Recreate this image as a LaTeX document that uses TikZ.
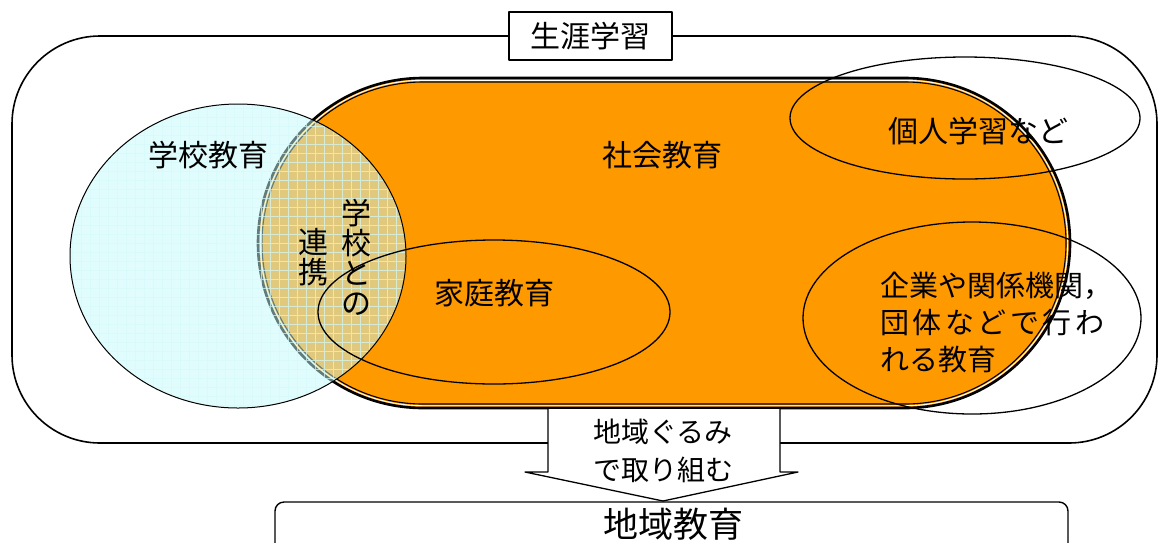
\documentclass[tikz,border=0pt]{standalone}
\usepackage{fontspec}
\newfontfamily\jp{Noto Sans CJK JP}
\definecolor{orangefill}{RGB}{255,153,0}
\definecolor{cyanfill}{RGB}{195,249,249}
\definecolor{gridc}{RGB}{212,250,250}
\begin{document}
\begin{tikzpicture}[x=1pt,y=-1pt,line join=round,
  lbl/.style={font=\jp\fontsize{30}{30}\selectfont, inner sep=0pt, text=black},
  lblsm/.style={font=\jp\fontsize{29}{37}\selectfont, inner sep=0pt, text=black, align=left},
  vert/.style={font=\jp\fontsize{30}{30}\selectfont, inner sep=0pt, text=black, align=center},
  arrowtxt/.style={font=\jp\fontsize{28}{38}\selectfont, inner sep=0pt, text=black, align=center},
  bigtxt/.style={font=\jp\fontsize{35}{35}\selectfont, inner sep=0pt, text=black},
  frame/.style={draw=black, line width=1.6pt},
  thinline/.style={draw=black, line width=1.3pt}]
\useasboundingbox (0,0) rectangle (1158,542);
\clip (0,0) rectangle (1158,542);

% outer frame (lifelong learning)
\draw[frame, rounded corners=88pt] (12,36) rectangle (1157,443);

% social education stadium
\fill[orangefill, rounded corners=164.9pt] (258,78) rectangle (1070,408);
\draw[line width=2.6pt, rounded corners=164.9pt] (258,78) rectangle (1070,408);
\draw[white, line width=0.9pt, rounded corners=162.6pt] (260.3,80.3) rectangle (1067.7,405.7);
\draw[line width=1.1pt, rounded corners=161pt] (262,82) rectangle (1066,404);

% school education circle (semi-transparent)
\fill[cyanfill, opacity=0.5] (238,256) ellipse [x radius=168pt, y radius=152pt];
\begin{scope}
  \clip (238,256) ellipse [x radius=168pt, y radius=152pt];
  \draw[gridc, line width=0.6pt, opacity=0.7, step=9pt] (60,96) grid (420,420);
\end{scope}
\draw[line width=1pt] (238,256) ellipse [x radius=168pt, y radius=152pt];

% ellipses
\draw[thinline] (494,312) ellipse [x radius=176pt, y radius=72pt];
\draw[thinline] (965,118) ellipse [x radius=175pt, y radius=61pt];
\draw[thinline] (972,318) ellipse [x radius=169pt, y radius=96pt];

% title
\node[frame, line width=1.4pt, fill=white, minimum width=163pt, minimum height=48pt, inner sep=0pt, lbl] (title) at (590.5,36) {生涯学習};

% labels
\node[lbl] (gakko) at (208,155) {学校教育};
\node[lbl] (shakai) at (662,155) {社会教育};
\node[lbl] (katei) at (494,293) {家庭教育};
\node[lbl] (kojin) at (978,131) {個人学習など};
\node[lblsm, anchor=north west] (kigyo) at (880,272) {企業や関係機関，\\団\kern3.5pt 体\kern3.5pt な\kern3.5pt ど\kern3.5pt で\kern3.5pt 行\kern3.5pt わ\\れる教育};
\node[vert] (togakko) at (356,257) {学\\校\\と\\の};
\node[vert] (renkei) at (313,257) {連\\携};

% arrow
\coordinate (aTL) at (548,409);
\coordinate (aTR) at (780,409);
\coordinate (tip) at (663,501);
\draw[thinline, fill=white] (aTL) -- (548,472) -- (525,472) -- (tip) -- (798,472) -- (780,472) -- (aTR);
\node[arrowtxt] (chiikigurumi) at (663,451) {地域ぐるみ\\で取り組む};

% bottom box
\draw[frame, line width=1.4pt, rounded corners=9pt, fill=white] (275,502) rectangle (1068,580);
\node[bigtxt] (chiiki) at (673,524) {地域教育};
\end{tikzpicture}
\end{document}
